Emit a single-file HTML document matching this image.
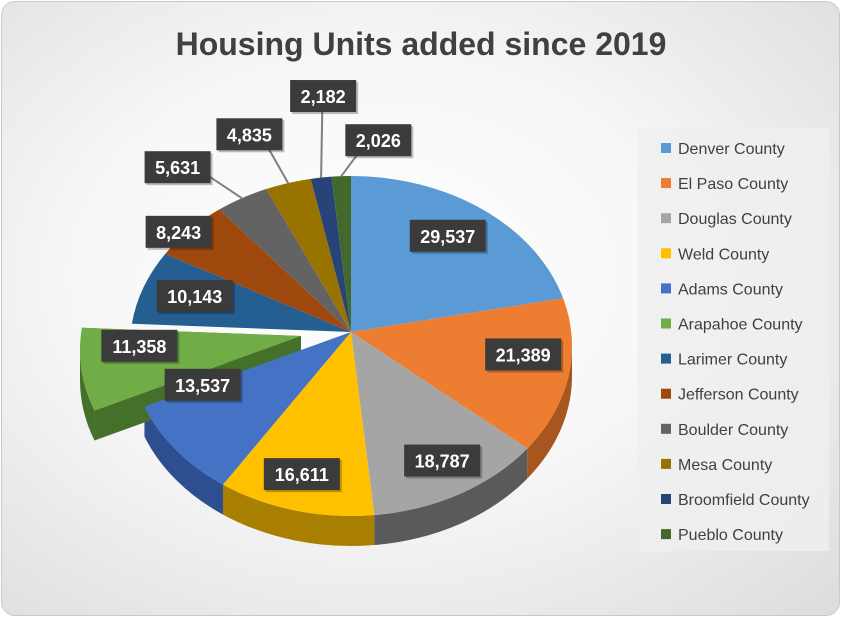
<!DOCTYPE html>
<html><head><meta charset="utf-8"><style>
html,body{margin:0;padding:0;width:841px;height:617px;overflow:hidden;background:#fff}
#card{position:absolute;left:1px;top:1px;width:837px;height:613px;border:1px solid #c9c9c9;border-radius:14px;
background:radial-gradient(ellipse at 45% 45%,#ffffff 0%,#f7f7f7 45%,#dcdcdc 100%);overflow:hidden}
</style></head><body>
<div id="card">
<svg id="svg" width="841" height="617" style="position:absolute;left:-1px;top:-1px">
<text x="420" y="54" text-anchor="middle" font-family="Liberation Sans, sans-serif" font-weight="bold" font-size="32" fill="#404040">Housing Units added since 2019</text>
<rect x="637" y="127" width="191" height="423" fill="#efefef" opacity="0.85"/>
<g id="pie"></g><g id="legend"></g>
</svg>
</div>
<script>
const categories=["Denver County","El Paso County","Douglas County","Weld County","Adams County","Arapahoe County","Larimer County","Jefferson County","Boulder County","Mesa County","Broomfield County","Pueblo County"];
const values=[29537,21389,18787,16611,13537,11358,10143,8243,5631,4835,2182,2026];
const colors=["#5B9BD5","#ED7D31","#A5A5A5","#FFC000","#4472C4","#70AD47","#255E91","#9E480E","#636363","#997300","#264478","#43682B"];
const sideColors=["#3d6f9e","#a8561f","#5a5a5a","#a87f00","#2e4f8f","#45702a","#0f2a45","#6b300a","#404040","#664d00","#162a4a","#2b4419"];
const exploded=[5];
const labelNudge=[[4,-14],[20,-12],[15,12],[-10,14],[-26,-33],[-8,-17],[-11,-8],[-11,3],[-37,7],[-23,-7],[11,-30],[40,16]];
const NS="http://www.w3.org/2000/svg";
const cx=350,cy=345,apexY=331,rx=221,ry=170,depth=30;
const pie=document.getElementById('pie');
const total=values.reduce((a,b)=>a+b,0);
function pt(t,r,o){return [cx+o[0]+rx*r*Math.sin(t),cy+o[1]-ry*r*Math.cos(t)];}
function mk(tag,attrs){const e=document.createElementNS(NS,tag);for(const k in attrs)e.setAttribute(k,attrs[k]);return e;}
let cum=0;const sl=[];
values.forEach((v,i)=>{const a=cum/total*2*Math.PI;cum+=v;const b=cum/total*2*Math.PI;
 const o=exploded.includes(i)?[-50,4]:[0,0];sl.push({a,b,o,i});});
const sides=mk('g',{});pie.appendChild(sides);
sl.forEach(s=>{
 const lo=Math.max(s.a,Math.PI/2),hi=Math.min(s.b,1.5*Math.PI);
 if(hi>lo){const p1=pt(lo,1,s.o),p2=pt(hi,1,s.o);const lg=(hi-lo)>Math.PI?1:0;
  const p=mk('path',{d:`M${p1[0]},${p1[1]} A${rx},${ry} 0 ${lg} 1 ${p2[0]},${p2[1]} L${p2[0]},${p2[1]+depth} A${rx},${ry} 0 ${lg} 0 ${p1[0]},${p1[1]+depth} Z`,fill:sideColors[s.i]});
  
  sides.appendChild(p);}
 if(exploded.includes(s.i)){
  [s.a,s.b].forEach(t=>{const c=[cx+s.o[0],apexY+s.o[1]],q=pt(t,1,s.o);
   const w=mk('path',{d:`M${c[0]},${c[1]} L${q[0]},${q[1]} L${q[0]},${q[1]+depth} L${c[0]},${c[1]+depth}Z`,fill:sideColors[s.i]});
   sides.appendChild(w);});
 }
});
const order=sl.slice().sort((x,y)=>(exploded.includes(x.i)?1:0)-(exploded.includes(y.i)?1:0));
order.forEach(s=>{const p1=pt(s.a,1,s.o),p2=pt(s.b,1,s.o);const lg=(s.b-s.a)>Math.PI?1:0;
 const p=mk('path',{d:`M${cx+s.o[0]},${apexY+s.o[1]} L${p1[0]},${p1[1]} A${rx},${ry} 0 ${lg} 1 ${p2[0]},${p2[1]} Z`,fill:colors[s.i]});
 
 pie.appendChild(p);});
sl.forEach(s=>{const m=(s.a+s.b)/2;const outside=s.i>=7;const r=outside?(s.i>=10?1.3:(s.i>=8?1.25:1.0)):0.7;
 const c=pt(m,r,s.o);const n=labelNudge[s.i];const x=c[0]+n[0],y=c[1]+n[1];
 const txt=values[s.i].toLocaleString('en-US');const w=txt.length*10+16;
 if(outside&&s.i>=8){const e=pt(m,1,s.o);
  const l=mk('polyline',{points:`${e[0]},${e[1]} ${e[0]+(x-e[0])*0.7},${y} ${x},${y}`,fill:'none',stroke:'#7f7f7f','stroke-width':2});
  pie.appendChild(l);}
 const g=mk('g',{});
 g.appendChild(mk('rect',{x:x-w/2+2,y:y-15,width:w,height:32,fill:'#000',opacity:0.25}));
 g.appendChild(mk('rect',{x:x-w/2,y:y-17,width:w,height:32,fill:'#3b3b3b'}));
 const t=mk('text',{x:x,y:y+6,'text-anchor':'middle','font-family':'Liberation Sans, sans-serif','font-weight':'bold','font-size':18,fill:'#fff'});
 t.textContent=txt;g.appendChild(t);pie.appendChild(g);});
const lg=document.getElementById('legend');
categories.forEach((c,i)=>{const y=147+i*35.1;
 const g=mk('g',{});
 g.appendChild(mk('rect',{x:660,y:y-5,width:10,height:10,fill:colors[i]}));
 const t=mk('text',{x:677,y:y+6,'font-family':'Liberation Sans, sans-serif','font-size':16,fill:'#404040'});t.textContent=c;
 g.appendChild(t);lg.appendChild(g);});
</script>
</body></html>
